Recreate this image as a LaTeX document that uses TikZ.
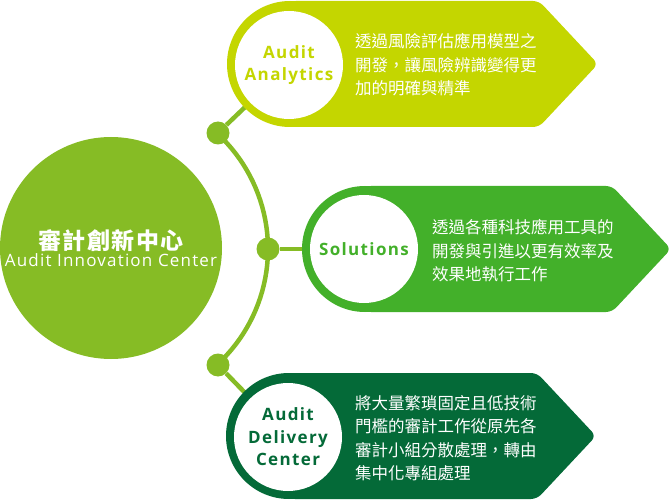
\documentclass[tikz,border=0pt]{standalone}
\usepackage{fontspec}
\setmainfont{Open Sans}
\newfontfamily\cjk{Noto Sans CJK TC}
\newfontfamily\cjktitle[LetterSpace=6]{Noto Sans CJK TC}
\newfontfamily\lbl[LetterSpace=8]{Open Sans}
\newfontfamily\hubsans[LetterSpace=7]{Open Sans}
\usetikzlibrary{backgrounds}
\definecolor{hubgreen}{HTML}{86BC25}
\definecolor{lime}{HTML}{C4D600}
\definecolor{midgreen}{HTML}{43B02A}
\definecolor{forest}{HTML}{046A38}
\tikzset{
  hub/.style={circle, fill=hubgreen, minimum size=222pt, inner sep=0pt, text=white, align=center},
  dot/.style={circle, fill=hubgreen, minimum size=23pt, inner sep=0pt},
  spine/.style={draw=hubgreen, line width=4.5pt},
  badge/.style={circle, fill=white, minimum size=108pt, inner sep=0pt, align=center,
    font=\lbl\bfseries\fontsize{17}{22.5}\selectfont},
  blurb/.style={anchor=west, align=left, text=white, inner sep=0pt,
    font=\cjk\fontsize{16.5}{23.5}\selectfont},
}

\begin{document}
\begin{tikzpicture}[x=1pt, y=-1pt]
\useasboundingbox (0,0) rectangle (670,500);

% banners
\foreach \cx/\cy/\xr/\col in {290/64/539/lime, 365/249/612/midgreen, 289/436/537/forest} {
    \fill[\col] (\cx,\cy) circle[radius=63pt];
    \fill[\col, rounded corners=6pt] (\cx,\cy-63) -- (\xr,\cy-63) -- (\xr+59,\cy) -- (\xr,\cy+63) -- (\cx,\cy+63) -- cycle;
}

\node[badge, text=lime] (aa) at (289,65) {Audit\\Analytics};
\node[badge, text=midgreen] (sol) at (364,249) {Solutions};
\node[badge, text=forest] (adc) at (288,437) {Audit\\Delivery\\Center};

\node[blurb] (aatext) at (355,65) {透過風險評估應用模型之\\開發，讓風險辨識變得更\\加的明確與精準};
\node[blurb] (soltext) at (432,251) {透過各種科技應用工具的\\開發與引進以更有效率及\\效果地執行工作};
\node[blurb] (adctext) at (355,438) {將大量繁瑣固定且低技術\\門檻的審計工作從原先各\\審計小組分散處理，轉由\\集中化專組處理};

% hub and spine
\node[hub] (hub) at (111,248) {{\cjktitle\bfseries\fontsize{23}{27}\selectfont 審計創新中心}\\[1pt]
    {\hubsans\fontsize{17}{20}\selectfont Audit Innovation Center}};
\node[dot] (d1) at (218,133) {};
\node[dot] (d2) at (268,249) {};
\node[dot] (d3) at (218,365) {};

\begin{pgfonlayer}{background}
\draw[spine] plot[domain=-47.3:47.3, samples=40] ({111+157*cos(\x)},{249+157*sin(\x)});
\draw[spine] (d1) -- (aa);
\draw[spine] (d2) -- (sol);
\draw[spine] (d3) -- (adc);
\end{pgfonlayer}
\end{tikzpicture}
\end{document}
